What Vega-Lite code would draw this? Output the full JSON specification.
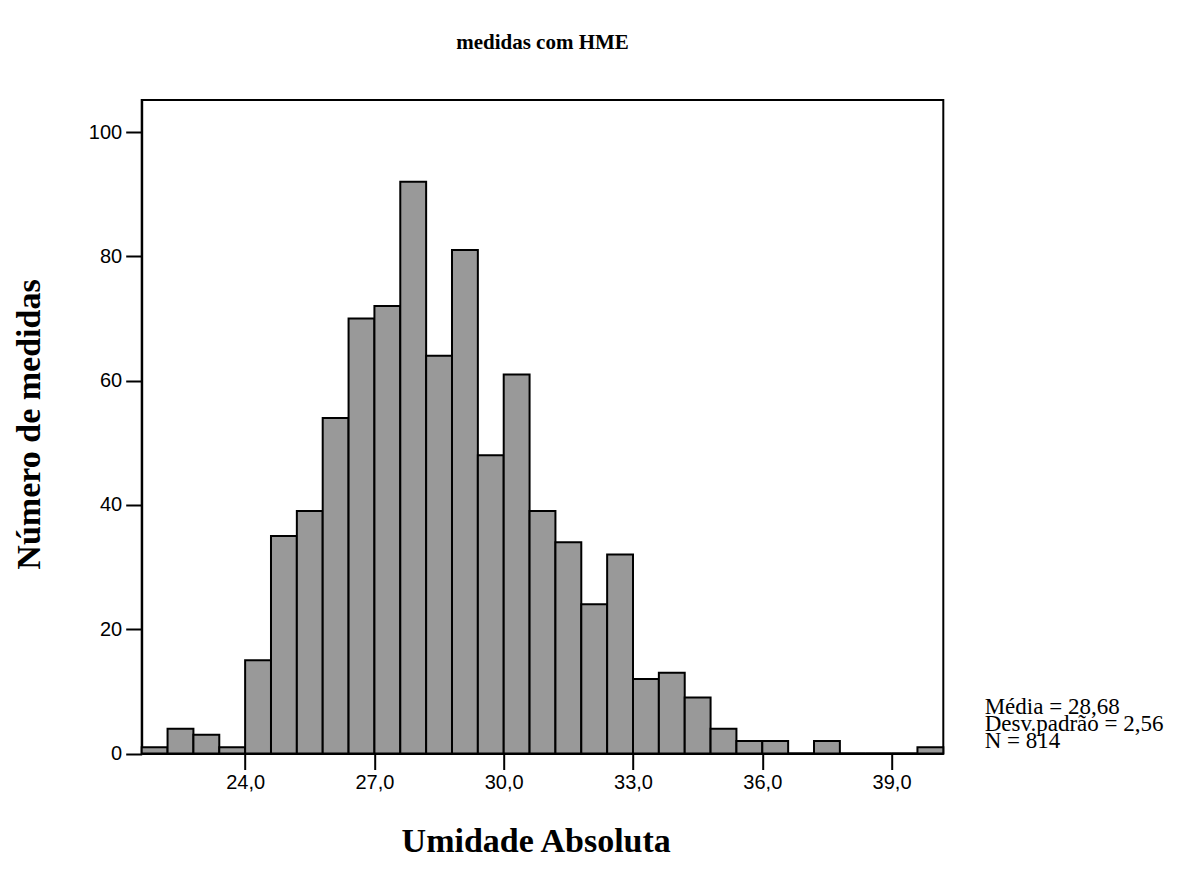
{
  "$schema": "https://vega.github.io/schema/vega-lite/v6.json",
  "autosize": {"type": "none"},
  "width": 801.6,
  "height": 653.5,
  "padding": {"left": 141.7, "top": 100, "right": 255.7, "bottom": 134.5},
  "background": "white",
  "title": {
    "text": "medidas com HME",
    "anchor": "middle",
    "offset": 47,
    "font": "Liberation Serif",
    "fontSize": 21,
    "fontWeight": "bold",
    "color": "black"
  },
  "config": {
    "view": {"stroke": "black", "strokeWidth": 2}
  },
  "layer": [
    {
      "data": {
        "values": [
          {"bin_start": 21.6, "bin_end": 22.2, "count": 1},
          {"bin_start": 22.2, "bin_end": 22.8, "count": 4},
          {"bin_start": 22.8, "bin_end": 23.4, "count": 3},
          {"bin_start": 23.4, "bin_end": 24.0, "count": 1},
          {"bin_start": 24.0, "bin_end": 24.6, "count": 15},
          {"bin_start": 24.6, "bin_end": 25.2, "count": 35},
          {"bin_start": 25.2, "bin_end": 25.8, "count": 39},
          {"bin_start": 25.8, "bin_end": 26.4, "count": 54},
          {"bin_start": 26.4, "bin_end": 27.0, "count": 70},
          {"bin_start": 27.0, "bin_end": 27.6, "count": 72},
          {"bin_start": 27.6, "bin_end": 28.2, "count": 92},
          {"bin_start": 28.2, "bin_end": 28.8, "count": 64},
          {"bin_start": 28.8, "bin_end": 29.4, "count": 81},
          {"bin_start": 29.4, "bin_end": 30.0, "count": 48},
          {"bin_start": 30.0, "bin_end": 30.6, "count": 61},
          {"bin_start": 30.6, "bin_end": 31.2, "count": 39},
          {"bin_start": 31.2, "bin_end": 31.8, "count": 34},
          {"bin_start": 31.8, "bin_end": 32.4, "count": 24},
          {"bin_start": 32.4, "bin_end": 33.0, "count": 32},
          {"bin_start": 33.0, "bin_end": 33.6, "count": 12},
          {"bin_start": 33.6, "bin_end": 34.2, "count": 13},
          {"bin_start": 34.2, "bin_end": 34.8, "count": 9},
          {"bin_start": 34.8, "bin_end": 35.4, "count": 4},
          {"bin_start": 35.4, "bin_end": 36.0, "count": 2},
          {"bin_start": 36.0, "bin_end": 36.6, "count": 2},
          {"bin_start": 36.6, "bin_end": 37.2, "count": 0},
          {"bin_start": 37.2, "bin_end": 37.8, "count": 2},
          {"bin_start": 37.8, "bin_end": 38.4, "count": 0},
          {"bin_start": 38.4, "bin_end": 39.0, "count": 0},
          {"bin_start": 39.0, "bin_end": 39.6, "count": 0},
          {"bin_start": 39.6, "bin_end": 40.2, "count": 1}
        ]
      },
      "mark": {"type": "bar", "fill": "#999999", "stroke": "black", "strokeWidth": 2, "opacity": 1},
      "encoding": {
        "x": {
          "field": "bin_start",
          "type": "quantitative",
          "scale": {"domain": [21.6, 40.2], "nice": false, "zero": false},
          "axis": {
            "values": [24, 27, 30, 33, 36, 39],
            "labelExpr": "replace(format(datum.value, '.1f'), '.', ',')",
            "grid": false,
            "domain": true,
            "domainColor": "black",
            "domainWidth": 2,
            "tickColor": "black",
            "tickWidth": 2,
            "tickSize": 16,
            "labelFont": "Liberation Sans",
            "labelFontSize": 20,
            "labelColor": "black",
            "labelPadding": 3,
            "title": "Umidade Absoluta",
            "titleFont": "Liberation Serif",
            "titleFontSize": 34,
            "titleFontWeight": "bold",
            "titleColor": "black",
            "titleX": 394,
            "titleY": 88,
            "titleBaseline": "middle",
            "titleAlign": "center"
          }
        },
        "x2": {"field": "bin_end"},
        "y": {
          "field": "count",
          "type": "quantitative",
          "scale": {"domain": [0, 105.15], "nice": false},
          "axis": {
            "values": [0, 20, 40, 60, 80, 100],
            "grid": false,
            "domain": true,
            "domainColor": "black",
            "domainWidth": 2,
            "tickColor": "black",
            "tickWidth": 2,
            "tickSize": 16,
            "labelFont": "Liberation Sans",
            "labelFontSize": 20,
            "labelColor": "black",
            "labelPadding": 4,
            "title": "Número de medidas",
            "titleFont": "Liberation Serif",
            "titleFontSize": 34,
            "titleFontWeight": "bold",
            "titleColor": "black",
            "titleAngle": 270,
            "titleX": -112,
            "titleY": 324,
            "titleBaseline": "middle",
            "titleAlign": "center"
          }
        },
        "y2": {"datum": 0}
      }
    },
    {
      "data": {"values": [{"stats": "Média = 28,68\nDesv.padrão = 2,56\nN = 814"}]},
      "mark": {
        "type": "text",
        "align": "left",
        "baseline": "alphabetic",
        "font": "Liberation Serif",
        "fontSize": 23,
        "lineBreak": "\n",
        "lineHeight": 17,
        "color": "black"
      },
      "encoding": {
        "text": {"field": "stats"},
        "x": {"datum": 41.16, "type": "quantitative"},
        "y": {"datum": 6.36, "type": "quantitative"}
      }
    }
  ]
}
